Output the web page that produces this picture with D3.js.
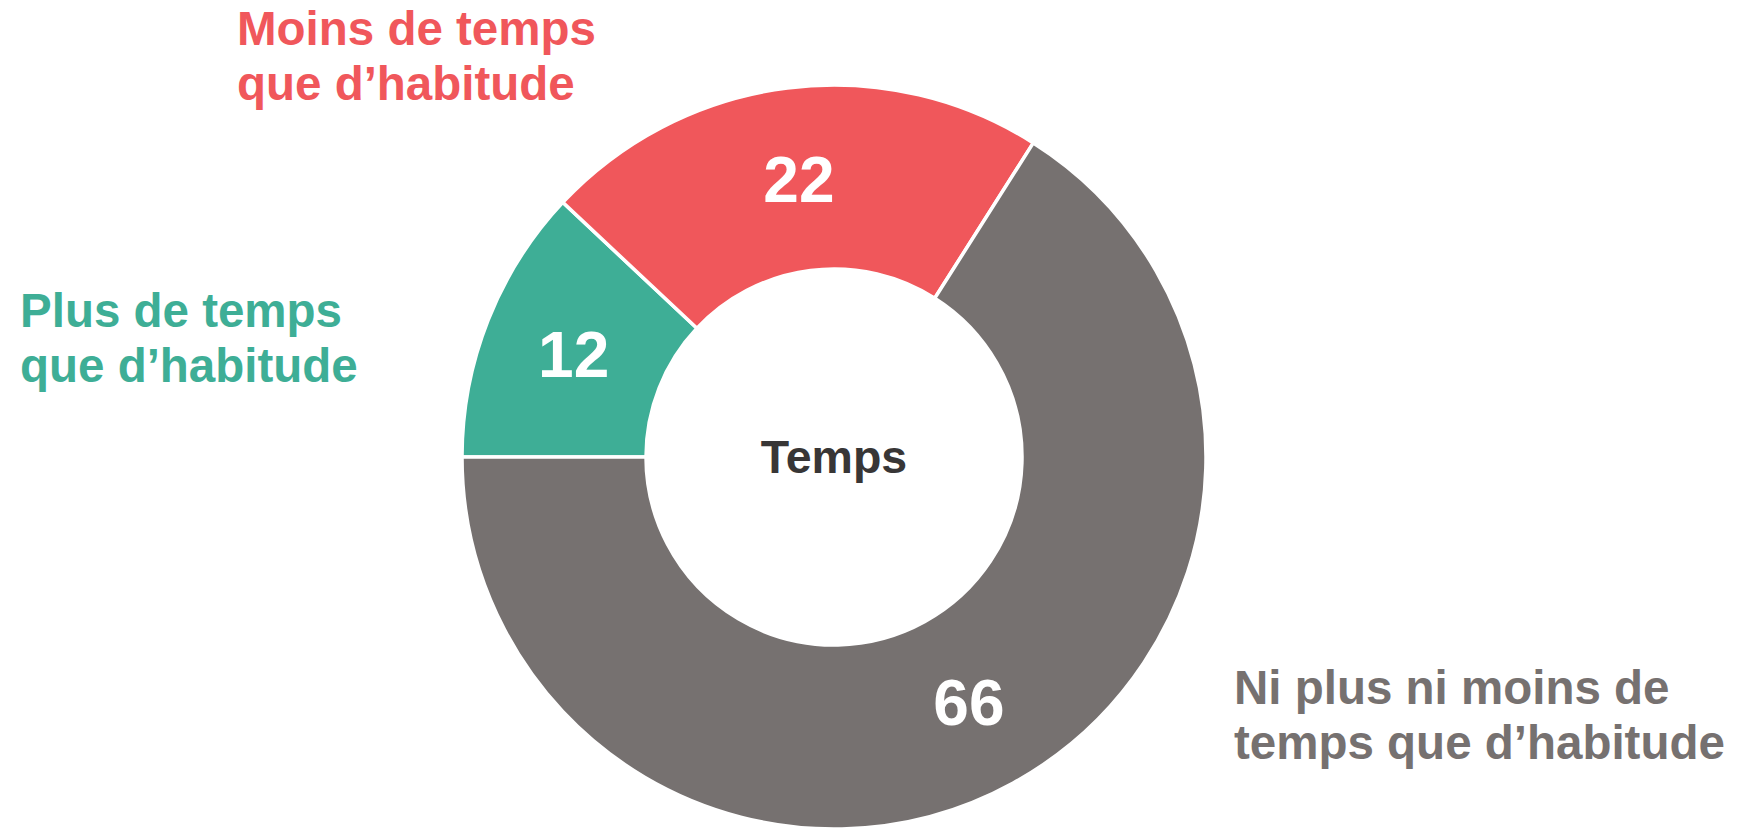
<!DOCTYPE html>
<html lang="fr">
<head>
<meta charset="UTF-8">
<title>Temps</title>
<script src="https://d3js.org/d3.v7.min.js"></script>
<style>
  * { margin: 0; padding: 0; box-sizing: border-box; }
  body { background: #fff; font-family: "Liberation Sans", Arial, sans-serif; }
  svg { display: block; }
  .value { fill: #fff; font-weight: 700; font-size: 64px; }
  .cat { font-weight: 700; font-size: 47.5px; }
  .center { fill: #383636; font-weight: 700; font-size: 46.5px; }
</style>
</head>
<body>
<svg id="chart"></svg>
<script>
  // Data
  const categories = ['Plus de temps que d’habitude', 'Moins de temps que d’habitude', 'Ni plus ni moins de temps que d’habitude'];
  const values = [12, 22, 66];
  const labelLines = [
    ['Plus de temps', 'que d’habitude'],
    ['Moins de temps', 'que d’habitude'],
    ['Ni plus ni moins de', 'temps que d’habitude']
  ];
  const centerTitle = 'Temps';

  const colors = ['#3eae96', '#f0575b', '#767170'];

  const width = 1737, height = 829;
  const cx = 834, cy = 457;
  const outerR = 372, innerR = 188;

  const svg = d3.select('#chart').attr('width', width).attr('height', height);
  const g = svg.append('g').attr('transform', `translate(${cx},${cy})`);

  const pie = d3.pie().sort(null).value(d => d).startAngle(-Math.PI / 2).endAngle(1.5 * Math.PI);
  const arc = d3.arc().innerRadius(innerR).outerRadius(outerR);
  const arcs = pie(values);

  g.selectAll('path.slice')
    .data(arcs)
    .enter()
    .append('path')
    .attr('class', 'slice')
    .attr('d', arc)
    .attr('fill', (d, i) => colors[i])
    .attr('stroke', '#fff')
    .attr('stroke-width', 3.5);

  g.selectAll('text.value')
    .data(arcs)
    .enter()
    .append('text')
    .attr('class', 'value')
    .attr('text-anchor', 'middle')
    .attr('transform', d => `translate(${arc.centroid(d)})`)
    .attr('dy', '0.36em')
    .text(d => d.data);

  g.append('text')
    .attr('class', 'center')
    .attr('text-anchor', 'middle')
    .attr('y', 16)
    .text(centerTitle);

  // Outside labels (left edge, first baseline), placed by hand like the original
  const labelPos = [[20, 327], [237, 45], [1234, 704]];
  const lineH = 55;

  labelLines.forEach((lines, i) => {
    const t = svg.append('text')
      .attr('class', 'cat')
      .attr('fill', colors[i])
      .attr('x', labelPos[i][0])
      .attr('y', labelPos[i][1]);
    lines.forEach((line, j) => {
      t.append('tspan')
        .attr('x', labelPos[i][0])
        .attr('y', labelPos[i][1] + j * lineH)
        .text(line);
    });
  });
</script>
</body>
</html>
